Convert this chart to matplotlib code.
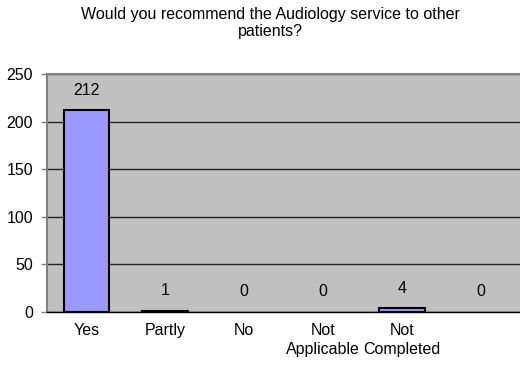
import numpy as np
from matplotlib import pyplot as plt

# chart data
categories = ['Yes', 'Partly', 'No', 'Not\nApplicable', 'Not\nCompleted', '']
counts = [212, 1, 0, 0, 4, 0]
title = 'Would you recommend the Audiology service to other\npatients?'

plt.rcParams['font.family'] = ['Liberation Sans', 'DejaVu Sans']
fs = 11.5

fig = plt.figure(figsize=(5.2, 3.65), dpi=100)
ax = fig.add_axes([0.0904, 0.145, 0.9096, 0.652])
ax.set_facecolor('#c0c0c0')

x = np.arange(len(categories))
for xi, c in zip(x, counts):
    if c > 0:
        ax.bar(xi, c, width=0.58, color='#9999ff', edgecolor='black',
               linewidth=1.5, zorder=3)
    ax.annotate(str(c), (xi, c), xytext=(0, 14.5), textcoords='offset points',
                ha='center', va='center', fontsize=fs, color='black')

ax.set_xlim(-0.5, len(categories) - 0.5)
ax.set_ylim(0, 250)
ax.set_yticks([0, 50, 100, 150, 200, 250])
ax.set_xticks(x)
ax.set_xticklabels(categories, fontsize=fs, linespacing=1.3)
ax.tick_params(axis='x', length=0, pad=8)
ax.tick_params(axis='y', length=4, width=1, color='#808080', labelsize=fs, pad=6)
ax.yaxis.grid(True, color='#222222', linewidth=1, zorder=1)
ax.set_axisbelow(True)

ax.spines['top'].set_color('#808080')
ax.spines['top'].set_linewidth(1.5)
ax.spines['left'].set_color('#808080')
ax.spines['left'].set_linewidth(1.5)
ax.spines['right'].set_visible(False)
ax.spines['bottom'].set_color('black')
ax.spines['bottom'].set_linewidth(1)

fig.text(0.52, 0.937, title, ha='center', va='center', fontsize=fs,
         linespacing=1.15)

plt.savefig('out.png', dpi=100)
